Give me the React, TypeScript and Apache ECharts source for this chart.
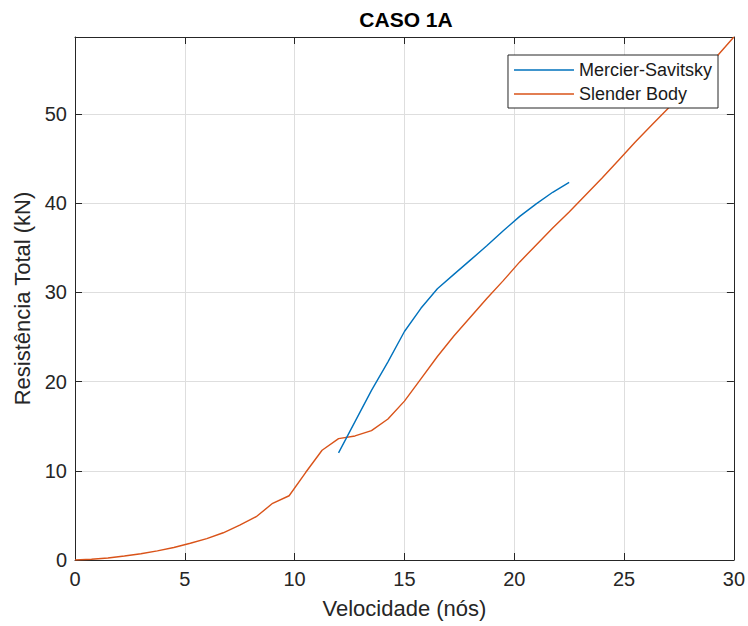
import React, { useEffect, useRef } from "react";
import * as echarts from "echarts";

const titleText = "CASO 1A";
const xAxisName = "Velocidade (nós)";
const yAxisName = "Resistência Total (kN)";
const seriesNames = ["Mercier-Savitsky", "Slender Body"];

const slenderSpeed = [
  0, 0.75, 1.5, 2.25, 3, 3.75, 4.5, 5.25, 6, 6.75, 7.5, 8.25, 9, 9.75, 10.5, 11.25, 12, 12.75, 13.5, 14.25,
  15, 15.75, 16.5, 17.25, 18, 18.75, 19.5, 20.25, 21, 21.75, 22.5, 23.25, 24, 24.75, 25.5, 26.25, 27, 27.75,
  28.5, 29.25, 30,
];
const slenderRes = [
  0, 0.08, 0.22, 0.45, 0.7, 1.02, 1.4, 1.88, 2.4, 3.05, 3.9, 4.85, 6.35, 7.2, 9.8, 12.3, 13.6, 13.9, 14.5, 15.8,
  17.8, 20.3, 22.8, 25.1, 27.2, 29.3, 31.3, 33.4, 35.3, 37.2, 39.0, 40.9, 42.8, 44.8, 46.8, 48.7, 50.6, 52.5,
  54.5, 56.5, 58.6,
];

const mercierSpeed = [12, 12.75, 13.5, 14.25, 15, 15.75, 16.5, 17.25, 18, 18.75, 19.5, 20.25, 21, 21.75, 22.5];
const mercierRes = [12.0, 15.5, 19.0, 22.2, 25.6, 28.2, 30.4, 32.0, 33.6, 35.2, 36.9, 38.5, 39.9, 41.2, 42.3];

const xTicks = { min: 0, max: 30, interval: 5 };
const yTicks = { min: 0, interval: 10 };

const FONT = "'Liberation Sans', Arial, Helvetica, sans-serif";
const AX = "#262626";

export default function App() {
  const ref = useRef<HTMLDivElement>(null);
  useEffect(() => {
    if (!ref.current) return;
    const chart = echarts.init(ref.current, null, { renderer: "svg" });
    const yMax = Math.max(...slenderRes);
    const pairs = (xs: number[], ys: number[]) => xs.map((x, i) => [x, ys[i]]);
    const baseX = {
      type: "value",
      min: xTicks.min,
      max: xTicks.max,
      interval: xTicks.interval,
      axisLine: { show: true, onZero: false, lineStyle: { color: AX, width: 1 } },
      axisTick: { show: true, inside: true, length: 7, lineStyle: { color: AX } },
    };
    const baseY = {
      type: "value",
      min: yTicks.min,
      max: yMax,
      interval: yTicks.interval,
      axisLine: { show: true, onZero: false, lineStyle: { color: AX, width: 1 } },
      axisTick: { show: true, inside: true, length: 7, lineStyle: { color: AX } },
    };
    chart.setOption({
      animation: false,
      backgroundColor: "#ffffff",
      grid: { left: 75, right: 12, top: 37, bottom: 66, containLabel: false },
      graphic: [
        {
          type: "text",
          x: 406,
          y: 19,
          style: {
            text: titleText,
            font: `bold 21px ${FONT}`,
            fill: "#000000",
            textAlign: "center",
            textVerticalAlign: "middle",
          },
        },
      ],
      legend: {
        show: true,
        orient: "vertical",
        right: 30,
        top: 55,
        padding: [6, 6, 5, 6],
        itemGap: 6,
        itemWidth: 60,
        itemHeight: 1.6,
        icon: "rect",
        backgroundColor: "#ffffff",
        borderColor: AX,
        borderWidth: 1,
        borderRadius: 0,
        data: seriesNames,
        textStyle: { fontFamily: FONT, fontSize: 18, color: "#1a1a1a", padding: [0, 0, 0, 0], height: 18, lineHeight: 18 },
      },
      xAxis: [
        {
          ...baseX,
          position: "bottom",
          name: xAxisName,
          nameLocation: "middle",
          nameGap: 37,
          nameTextStyle: { fontFamily: FONT, fontSize: 22, color: AX },
          axisLabel: { show: true, margin: 9, fontFamily: FONT, fontSize: 20, color: AX },
          splitLine: { show: true, lineStyle: { color: "#dedede", width: 1 } },
        },
        {
          ...baseX,
          position: "top",
          axisLabel: { show: false },
          splitLine: { show: false },
        },
      ],
      yAxis: [
        {
          ...baseY,
          position: "left",
          name: yAxisName,
          nameLocation: "middle",
          nameGap: 36,
          nameTextStyle: { fontFamily: FONT, fontSize: 22, color: AX },
          axisLabel: {
            show: true,
            margin: 8,
            fontFamily: FONT,
            fontSize: 20,
            color: AX,
            formatter: (v: number) => (Math.abs(v % 10) < 1e-9 ? String(v) : ""),
          },
          splitLine: { show: true, lineStyle: { color: "#dedede", width: 1 } },
        },
        {
          ...baseY,
          position: "right",
          axisLabel: { show: false },
          splitLine: { show: false },
        },
      ],
      series: [
        {
          name: seriesNames[0],
          type: "line",
          xAxisIndex: 0,
          yAxisIndex: 0,
          data: pairs(mercierSpeed, mercierRes),
          symbol: "none",
          showSymbol: false,
          lineStyle: { color: "#0072BD", width: 1.4 },
          itemStyle: { color: "#0072BD" },
          z: 3,
        },
        {
          name: seriesNames[1],
          type: "line",
          xAxisIndex: 0,
          yAxisIndex: 0,
          data: pairs(slenderSpeed, slenderRes),
          symbol: "none",
          showSymbol: false,
          lineStyle: { color: "#D95319", width: 1.4 },
          itemStyle: { color: "#D95319" },
          z: 2,
        },
      ],
    });
    return () => chart.dispose();
  }, []);
  return <div ref={ref} style={{ width: 748, height: 626, position: "absolute", left: 0, top: 0 }} />;
}
